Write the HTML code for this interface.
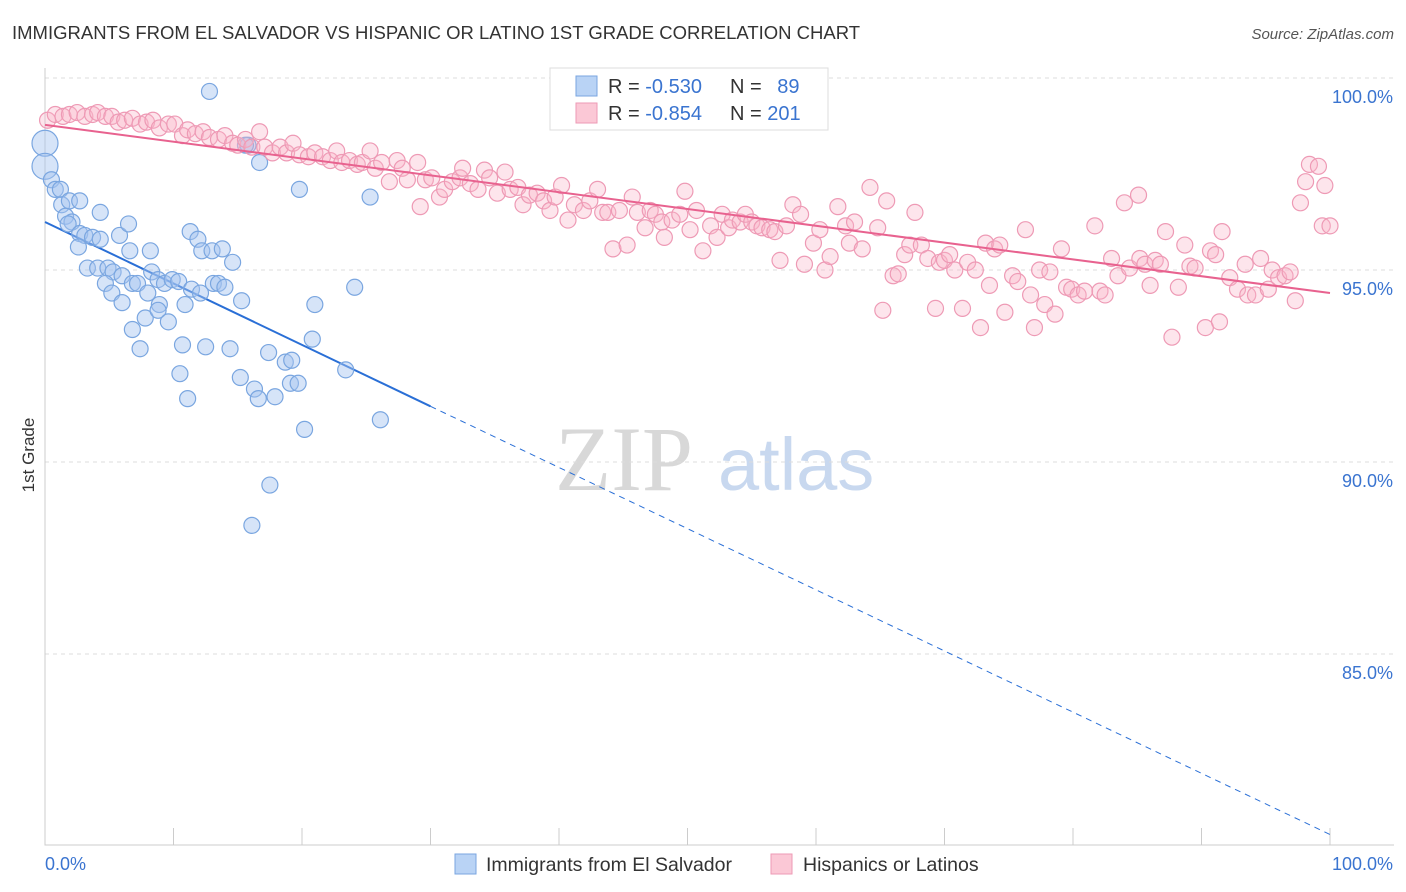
<!DOCTYPE html>
<html><head><meta charset="utf-8"><style>
body{margin:0;background:#fff;font-family:"Liberation Sans",sans-serif;}
svg{display:block}
</style></head><body>
<svg id="chart" width="1406" height="892" xmlns="http://www.w3.org/2000/svg">
<text x="12" y="39" font-size="18.5" fill="#333">IMMIGRANTS FROM EL SALVADOR VS HISPANIC OR LATINO 1ST GRADE CORRELATION CHART</text>
<text x="1394" y="39" font-size="15" fill="#555" text-anchor="end" font-style="italic">Source: ZipAtlas.com</text>
<text transform="translate(34,455) rotate(-90)" font-size="17" fill="#333" text-anchor="middle">1st Grade</text>
<g>
<text x="555" y="490" font-size="92" font-family="Liberation Serif,serif" fill="#d8d8d8">ZIP</text>
<text x="718" y="490" font-size="74" fill="#c8d8ef">atlas</text>
</g>
<g id="grid"></g><g id="axes"></g><g id="trend"></g><g id="pts"></g>
<g>
<rect x="550" y="68" width="278" height="62" fill="#fff" stroke="#ddd"/>
<rect x="576" y="76" width="21" height="20" fill="#b9d3f5" stroke="#7aa6e0"/>
<rect x="576" y="103" width="21" height="20" fill="#fbc8d6" stroke="#ee9ab5"/>
<text x="608" y="93" font-size="20" fill="#333">R = <tspan fill="#3a74d0">-0.530</tspan></text>
<text x="730" y="93" font-size="20" fill="#333">N = <tspan fill="#3a74d0" dx="10">89</tspan></text>
<text x="608" y="120" font-size="20" fill="#333">R = <tspan fill="#3a74d0">-0.854</tspan></text>
<text x="730" y="120" font-size="20" fill="#333">N = <tspan fill="#3a74d0">201</tspan></text>
</g>
<g>
<rect x="455" y="854" width="21" height="20" fill="#b9d3f5" stroke="#7aa6e0"/>
<text x="486" y="871" font-size="19.5" fill="#333">Immigrants from El Salvador</text>
<rect x="771" y="854" width="21" height="20" fill="#fbc8d6" stroke="#ee9ab5"/>
<text x="803" y="871" font-size="19.5" fill="#333">Hispanics or Latinos</text>
</g>
</svg>
<script>
const yTicks=[100,95,90,85];
const yTickLabels=["100.0%","95.0%","90.0%","85.0%"];
const xTickVals=[0,10,20,30,40,50,60,70,80,90,100];
const blueX=[0,0,0.5,0.8,1.2,1.3,1.9,2.7,1.6,2.1,1.8,2.7,3.1,3.7,4.3,4.3,2.6,3.3,4.1,4.9,5.3,6,4.7,5.2,6,6.8,7.2,6.6,5.8,6.5,8.2,8.3,8.8,8,9.3,9.9,10.4,8.9,7.8,6.8,7.4,8.8,9.6,10.9,11.4,12.1,11.3,11.9,12.2,13,13.8,14.6,13.1,13.5,14,15.3,10.7,10.5,11.1,12.5,14.4,15.2,16.3,16.6,17.9,17.4,18.7,19.2,19.1,19.7,20.2,17.5,16.1,20.8,21,19.8,24.1,23.4,26.1,25.3,12.8,15.8,16.7,15.6];
const blueY=[98.3,97.7,97.35,97.1,97.1,96.7,96.8,96.8,96.4,96.25,96.2,95.95,95.9,95.85,95.8,96.5,95.6,95.05,95.05,95.05,94.95,94.85,94.65,94.4,94.15,94.65,94.65,95.5,95.9,96.2,95.5,94.95,94.75,94.4,94.65,94.75,94.7,94.1,93.75,93.45,92.95,93.95,93.65,94.1,94.5,94.4,96,95.8,95.5,95.5,95.55,95.2,94.65,94.65,94.55,94.2,93.05,92.3,91.65,93,92.95,92.2,91.9,91.65,91.7,92.85,92.6,92.65,92.05,92.05,90.85,89.4,88.35,93.2,94.1,97.1,94.55,92.4,91.1,96.9,99.65,98.25,97.8,98.25];
const pinkX=[0.2,0.8,1.4,1.9,2.5,3.1,3.7,4.1,4.7,5.2,5.7,6.2,6.8,7.4,7.9,8.4,8.9,9.6,10.1,10.7,11.1,11.7,12.3,12.8,13.5,14,14.6,15,15.6,16.1,16.7,17.1,17.7,18.3,18.8,19.3,19.8,20.5,21,21.6,22.2,22.7,23.1,23.7,24.3,24.7,25.3,25.7,26.2,26.8,27.4,27.8,28.2,29,29.2,29.6,30.1,30.7,31.1,31.7,32.3,32.5,33.1,33.7,34.2,34.6,35.2,35.8,36.2,36.8,37.2,37.7,38.3,38.8,39.3,39.7,40.2,40.7,41.2,41.9,42.4,43,43.4,43.8,44.2,44.7,45.3,45.7,46.1,46.7,47.1,47.5,48,48.2,48.8,49.4,49.8,50.2,50.7,51.2,51.8,52.3,52.7,53.2,53.5,54.1,54.5,55,55.4,55.8,56.4,56.8,57.2,57.7,58.2,58.8,59.1,59.8,60.3,60.7,61.1,61.7,62.3,62.6,63,63.6,64.2,64.8,65.2,65.5,66,66.4,66.9,67.3,67.7,68.2,68.7,69.3,69.6,70,70.4,70.8,71.4,71.8,72.4,72.8,73.2,73.5,73.9,74.3,74.7,75.3,75.7,76.3,76.7,77,77.4,77.8,78.2,78.6,79.1,79.5,79.9,80.4,80.9,81.7,82.1,82.5,83,83.5,84,84.4,85.1,85.2,85.6,86,86.4,86.8,87.2,87.7,88.2,88.7,89.1,89.5,90.3,90.7,91.1,91.4,91.6,92.2,92.8,93.4,93.6,94.2,94.6,95.2,95.5,96,96.5,96.9,97.3,97.7,98.1,98.4,99.1,99.4,99.6,100];
const pinkY=[98.9,99.05,99,99.05,99.1,99,99.05,99.1,99,99,98.85,98.9,98.95,98.8,98.85,98.9,98.7,98.8,98.8,98.5,98.65,98.55,98.6,98.45,98.4,98.5,98.3,98.25,98.4,98.2,98.6,98.2,98.05,98.2,98.05,98.3,98,97.95,98.05,97.95,97.85,98.1,97.8,97.85,97.75,97.8,98.1,97.65,97.8,97.3,97.85,97.65,97.35,97.8,96.65,97.35,97.4,96.9,97.1,97.3,97.4,97.65,97.25,97.1,97.6,97.4,97,97.55,97.1,97.15,96.7,96.95,97,96.8,96.55,96.9,97.2,96.3,96.7,96.55,96.8,97.1,96.5,96.5,95.55,96.55,95.65,96.9,96.5,96.1,96.55,96.45,96.25,95.85,96.3,96.45,97.05,96.05,96.55,95.5,96.15,95.85,96.45,96.1,96.3,96.25,96.45,96.25,96.15,96.1,96.05,96,95.25,96.15,96.7,96.45,95.15,95.7,96.05,95,95.35,96.65,96.15,95.7,96.25,95.55,97.15,96.1,93.95,96.8,94.85,94.9,95.4,95.65,96.5,95.65,95.3,94,95.2,95.25,95.4,95,94,95.2,95,93.5,95.7,94.6,95.55,95.65,93.9,94.85,94.7,96.05,94.35,93.5,95,94.1,94.95,93.85,95.55,94.55,94.5,94.35,94.45,96.15,94.45,94.35,95.3,94.85,96.75,95.05,96.95,95.3,95.15,94.6,95.25,95.15,96,93.25,94.55,95.65,95.1,95.05,93.5,95.5,95.4,93.65,96,94.8,94.5,95.15,94.35,94.35,95.3,94.5,95,94.8,94.85,94.95,94.2,96.75,97.3,97.75,97.7,96.15,97.2,96.15];
const blueTrend=[96.25,91.45,80.3];
const pinkTrend=[98.78,94.4];
const NS="http://www.w3.org/2000/svg";
const X=v=>45+v*12.85, Y=v=>78+(100-v)*38.4;
function mk(t,a,p){const e=document.createElementNS(NS,t);for(const k in a)e.setAttribute(k,a[k]);p.appendChild(e);return e;}
const grid=document.getElementById('grid'),axes=document.getElementById('axes'),tr=document.getElementById('trend'),pts=document.getElementById('pts');
yTicks.forEach((t,i)=>{
 const l=mk('line',{x1:45,x2:1394,y1:Y(t),y2:Y(t),stroke:'#ddd','stroke-dasharray':'4,4'},grid);
 
 
 const tx=mk('text',{x:1393,y:Y(t)+25,'font-size':18,fill:'#3a74d0','text-anchor':'end'},grid);
 tx.textContent=yTickLabels[i];
 
 
});
const ax=mk('path',{d:'M45 68V845H1394',stroke:'#ccc',fill:'none'},axes);


xTickVals.forEach(v=>{const t=mk('line',{x1:X(v),x2:X(v),y1:828,y2:845,stroke:'#ccc'},axes);
 
 });
const xl0=mk('text',{x:45,y:870,'font-size':18,fill:'#3a74d0'},axes);xl0.textContent='0.0%';


const xl1=mk('text',{x:1393,y:870,'font-size':18,fill:'#3a74d0','text-anchor':'end'},axes);xl1.textContent='100.0%';


blueX.forEach((x,i)=>{const c=mk('circle',{cx:X(x),cy:Y(blueY[i]),r:i<2?13:8,fill:'rgba(164,196,240,0.45)',stroke:'#7aa6e0','stroke-width':1.2},pts);
 
 });
pinkX.forEach((x,i)=>{const c=mk('circle',{cx:X(x),cy:Y(pinkY[i]),r:8,fill:'rgba(248,180,200,0.35)',stroke:'#ee9ab5','stroke-width':1.2},pts);
 
 });
const b1=mk('line',{x1:X(0),y1:Y(blueTrend[0]),x2:X(30),y2:Y(blueTrend[1]),stroke:'#2a6fd6','stroke-width':2},tr);


const b2=mk('line',{x1:X(30),y1:Y(blueTrend[1]),x2:X(100),y2:Y(blueTrend[2]),stroke:'#2a6fd6','stroke-width':1,'stroke-dasharray':'6,5'},tr);


const p1=mk('line',{x1:X(0),y1:Y(pinkTrend[0]),x2:X(100),y2:Y(pinkTrend[1]),stroke:'#e8628f','stroke-width':2},pts);


</script>
</body></html>
